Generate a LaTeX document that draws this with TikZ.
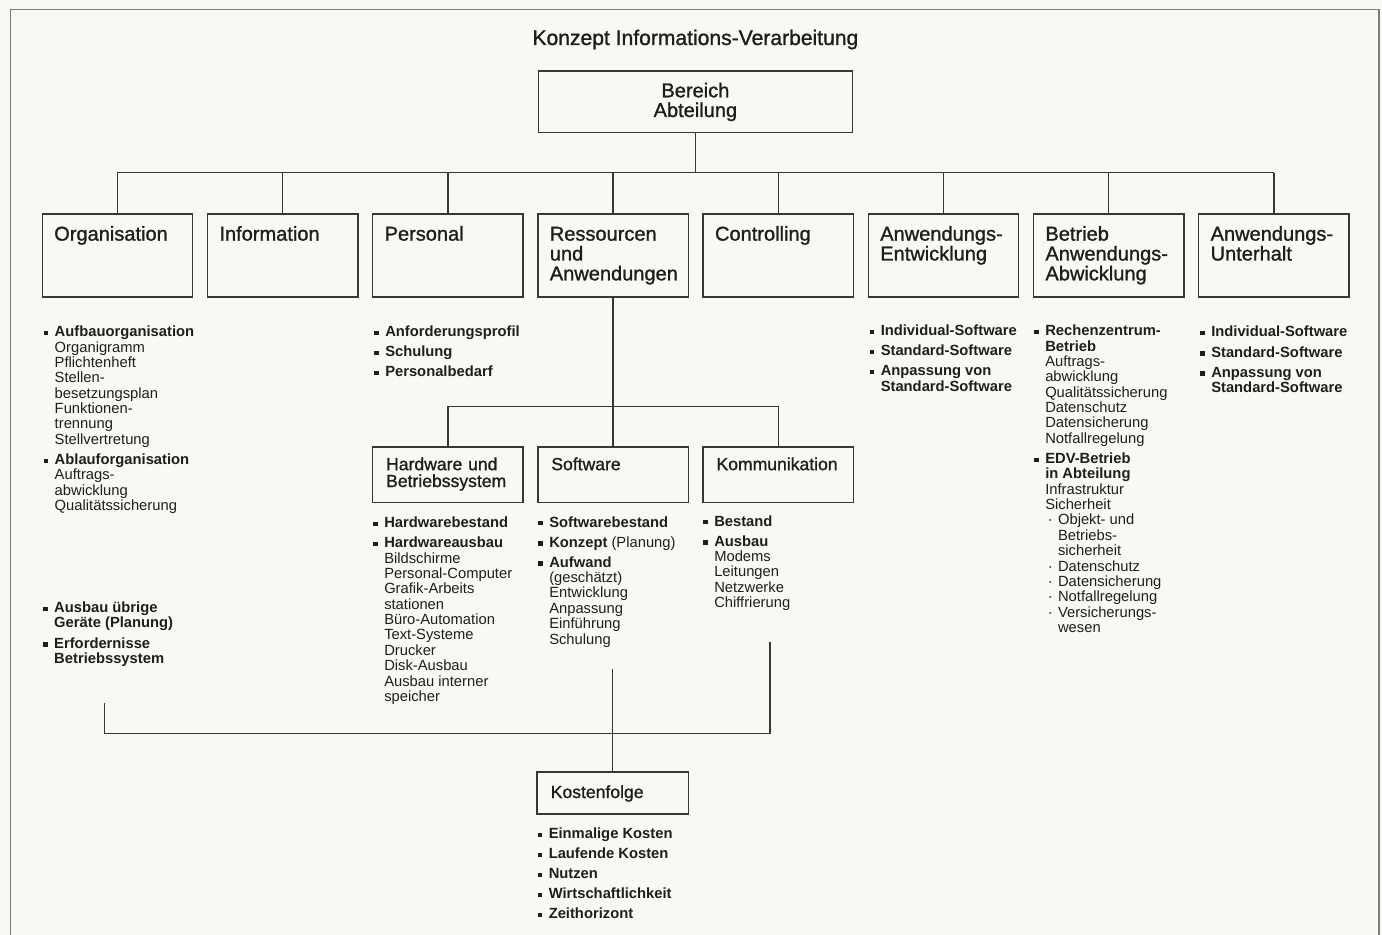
\documentclass[tikz,border=0pt]{standalone}
\usepackage{fontspec}
\setmainfont{Liberation Sans}
\newfontfamily\halbfett[FakeBold=1.2]{Liberation Sans}

\definecolor{papier}{RGB}{250,248,245}
\definecolor{linie}{RGB}{55,55,55}
\definecolor{schrift}{RGB}{30,30,30}
\definecolor{rand}{RGB}{125,125,125}

% Spalten der oberen Reihe
\def\xa{41.5}
\def\dx{165.2}

% Aufzaehlungen
\newcommand{\pkt}{\makebox[6.2pt][l]{\rule[0.9pt]{2.4pt}{2.4pt}}}
\newcommand{\mpkt}{\makebox[7.3pt][l]{\hspace{1.5pt}·}}
\newcommand{\einr}{\hspace*{7.3pt}}
\newcommand{\liste}[1]{\begin{tabular}[t]{@{}l@{}l@{}}#1\end{tabular}}

\begin{document}
\begin{tikzpicture}[
	x = 0.02cm, y = -0.02cm,
	kasten/.style = {draw = linie, line width = 0.9pt, text = schrift,
		anchor = north west, align = left, inner ysep = 0pt},
	oben/.style = {kasten, inner xsep = 6.8pt, text width = 72pt,
		text height = 15pt, text depth = 32.05pt,
		font = \halbfett\fontsize{11.4}{11.3}\selectfont},
	unten/.style = {kasten, inner xsep = 7.65pt, text width = 70.3pt,
		text height = 13.3pt, text depth = 18.45pt,
		font = \halbfett\fontsize{10}{9.6}\selectfont},
	punkte/.style = {anchor = base west, inner sep = 0pt, text = schrift,
		font = \fontsize{8.4}{8.75}\selectfont},
	verbindung/.style = {draw = linie, line width = 0.9pt},
]

	% Papier und Rahmen
	\fill[papier] (0,0) rectangle (1382,935);
	\useasboundingbox (0,0) rectangle (1382,935);
	\draw[rand, line width = 0.8pt]
		(10.5,935) -- (10.5,9.5) -- (1379,9.5) -- (1379,935);

	% Titel
	\node[anchor = base, text = schrift,
		font = \halbfett\fontsize{12}{14}\selectfont]
		(titel) at (695.4,45) {Konzept Informations-Verarbeitung};

	% Bereich
	\node[kasten, anchor = north, align = center, text width = 160pt,
		inner xsep = 9.3pt, text height = 15.1pt, text depth = 20pt,
		font = \halbfett\fontsize{11.4}{11.2}\selectfont]
		(bereich) at (695.4,70) {Bereich\\Abteilung};

	% obere Reihe
	\foreach \name/\beschr [count = \i from 0] in {
		org/Organisation, info/Information, pers/Personal,
		ress/{Ressourcen\\und\\Anwendungen}, contr/Controlling,
		entw/{Anwendungs-\\Entwicklung},
		betr/{Betrieb\\Anwendungs-\\Abwicklung},
		unterh/{Anwendungs-\\Unterhalt}}
		\node[oben] (\name) at ({\xa + \i*\dx},213.5) {\beschr};

	% untere Kaesten
	\node[unten] (hw) at ({\xa + 2*\dx},446) {Hardware und\\Betriebssystem};
	\node[unten] (sw) at ({\xa + 3*\dx},446) {Software};
	\node[unten] (komm) at ({\xa + 4*\dx},446) {Kommunikation};

	\node[unten, anchor = north, inner xsep = 7.9pt, text width = 70.4pt,
		text height = 14.7pt, text depth = 9.1pt]
		(kosten) at ({\xa + 3*\dx + 75.5},771.4) {Kostenfolge};

	% Verbindungen oben
	\coordinate (bus) at (0,172.6);
	\draw[verbindung] (bereich.south) -- (bereich.south |- bus);
	\draw[verbindung] (org.north |- bus) -- (unterh.north |- bus);
	\foreach \n in {org,info,pers,ress,contr,entw,betr,unterh}
		\draw[verbindung] (\n.north) -- (\n.north |- bus);

	% Verbindungen Mitte
	\coordinate (ubus) at (0,406.5);
	\draw[verbindung] (ress.south) -- (ress.south |- ubus);
	\draw[verbindung] (hw.north |- ubus) -- (komm.north |- ubus);
	\foreach \n in {hw,sw,komm}
		\draw[verbindung] (\n.north) -- (\n.north |- ubus);

	% Verbindungen unten
	\coordinate (links) at (104.7,703.4);
	\coordinate (rechts) at (770,641.6);
	\coordinate (mitte) at (612.6,669.4);
	\coordinate (kbus) at (0,733.7);
	\draw[verbindung] (links) |- (rechts |- kbus) -- (rechts);
	\draw[verbindung] (mitte) -- (kosten.north);

	% Listen
	\node[punkte] (lorg) at (43.5,336.7) {\liste{
		\pkt & \textbf{Aufbauorganisation}\\
		& Organigramm\\
		& Pflichtenheft\\
		& Stellen-\\
		& besetzungsplan\\
		& Funktionen-\\
		& trennung\\
		& Stellvertretung\\[2.7pt]
		\pkt & \textbf{Ablauforganisation}\\
		& Auftrags-\\
		& abwicklung\\
		& Qualitätssicherung}};

	\node[punkte] (lgeraete) at (43,612.6) {\liste{
		\pkt & \textbf{Ausbau übrige}\\
		& \textbf{Geräte (Planung)}\\[2.7pt]
		\pkt & \textbf{Erfordernisse}\\
		& \textbf{Betriebssystem}}};

	\node[punkte] (lpers) at (374,336.5) {\liste{
		\pkt & \textbf{Anforderungsprofil}\\[2.7pt]
		\pkt & \textbf{Schulung}\\[2.7pt]
		\pkt & \textbf{Personalbedarf}}};

	\node[punkte] (lentw) at (869.5,335.5) {\liste{
		\pkt & \textbf{Individual-Software}\\[2.7pt]
		\pkt & \textbf{Standard-Software}\\[2.7pt]
		\pkt & \textbf{Anpassung von}\\
		& \textbf{Standard-Software}}};

	\node[punkte] (lbetr) at (1034,335.7) {\liste{
		\pkt & \textbf{Rechenzentrum-}\\
		& \textbf{Betrieb}\\
		& Auftrags-\\
		& abwicklung\\
		& Qualitätssicherung\\
		& Datenschutz\\
		& Datensicherung\\
		& Notfallregelung\\[2.7pt]
		\pkt & \textbf{EDV-Betrieb}\\
		& \textbf{in Abteilung}\\
		& Infrastruktur\\
		& Sicherheit\\
		& \mpkt Objekt- und\\
		& \einr Betriebs-\\
		& \einr sicherheit\\
		& \mpkt Datenschutz\\
		& \mpkt Datensicherung\\
		& \mpkt Notfallregelung\\
		& \mpkt Versicherungs-\\
		& \einr wesen}};

	\node[punkte] (lunterh) at (1200,337) {\liste{
		\pkt & \textbf{Individual-Software}\\[2.7pt]
		\pkt & \textbf{Standard-Software}\\[2.7pt]
		\pkt & \textbf{Anpassung von}\\
		& \textbf{Standard-Software}}};

	\node[punkte] (lhw) at (373,527.6) {\liste{
		\pkt & \textbf{Hardwarebestand}\\[2.7pt]
		\pkt & \textbf{Hardwareausbau}\\
		& Bildschirme\\
		& Personal-Computer\\
		& Grafik-Arbeits\\
		& stationen\\
		& Büro-Automation\\
		& Text-Systeme\\
		& Drucker\\
		& Disk-Ausbau\\
		& Ausbau interner\\
		& speicher}};

	\node[punkte] (lsw) at (538,527) {\liste{
		\pkt & \textbf{Softwarebestand}\\[2.7pt]
		\pkt & \textbf{Konzept} (Planung)\\[2.7pt]
		\pkt & \textbf{Aufwand}\\
		& (geschätzt)\\
		& Entwicklung\\
		& Anpassung\\
		& Einführung\\
		& Schulung}};

	\node[punkte] (lkomm) at (703,526) {\liste{
		\pkt & \textbf{Bestand}\\[2.7pt]
		\pkt & \textbf{Ausbau}\\
		& Modems\\
		& Leitungen\\
		& Netzwerke\\
		& Chiffrierung}};

	\node[punkte] (lkosten) at (537.5,838.3) {\liste{
		\pkt & \textbf{Einmalige Kosten}\\[2.7pt]
		\pkt & \textbf{Laufende Kosten}\\[2.7pt]
		\pkt & \textbf{Nutzen}\\[2.7pt]
		\pkt & \textbf{Wirtschaftlichkeit}\\[2.7pt]
		\pkt & \textbf{Zeithorizont}}};

\end{tikzpicture}
\end{document}
